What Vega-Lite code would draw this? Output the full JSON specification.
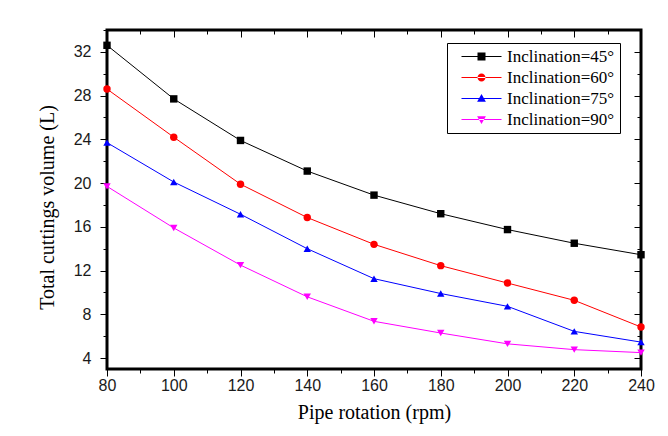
{
  "$schema": "https://vega.github.io/schema/vega-lite/v6.json",
  "width": 534,
  "height": 339,
  "autosize": "none",
  "padding": {"left": 107, "top": 30, "right": 27, "bottom": 67},
  "background": "white",
  "config": {
    "view": {"stroke": null},
    "axis": {
      "domainColor": "black", "domainWidth": 1, "tickColor": "black", "tickWidth": 1,
      "grid": false, "labelFont": "Liberation Sans", "labelFontSize": 16, "labelColor": "#1a1a1a",
      "titleFont": "Liberation Serif", "titleFontSize": 20, "titleFontWeight": "normal", "titleColor": "black"
    },
    "legend": {
      "strokeColor": "black", "strokeWidth": 1, "fillColor": "white", "padding": 5,
      "labelFont": "serif", "labelFontSize": 17, "labelColor": "black",
      "symbolSize": 256, "symbolOpacity": 1, "symbolOffset": 21, "labelOffset": 17, "rowPadding": 3, "symbolStrokeWidth": 0
    }
  },
  "datasets": {
    "series": [
      {"rpm": 80, "series": "Inclination=45°", "v": 32.6},
      {"rpm": 100, "series": "Inclination=45°", "v": 27.7},
      {"rpm": 120, "series": "Inclination=45°", "v": 23.9},
      {"rpm": 140, "series": "Inclination=45°", "v": 21.1},
      {"rpm": 160, "series": "Inclination=45°", "v": 18.9},
      {"rpm": 180, "series": "Inclination=45°", "v": 17.2},
      {"rpm": 200, "series": "Inclination=45°", "v": 15.75},
      {"rpm": 220, "series": "Inclination=45°", "v": 14.5},
      {"rpm": 240, "series": "Inclination=45°", "v": 13.45},
      {"rpm": 80, "series": "Inclination=60°", "v": 28.6},
      {"rpm": 100, "series": "Inclination=60°", "v": 24.2},
      {"rpm": 120, "series": "Inclination=60°", "v": 19.9},
      {"rpm": 140, "series": "Inclination=60°", "v": 16.85},
      {"rpm": 160, "series": "Inclination=60°", "v": 14.4},
      {"rpm": 180, "series": "Inclination=60°", "v": 12.45},
      {"rpm": 200, "series": "Inclination=60°", "v": 10.86},
      {"rpm": 220, "series": "Inclination=60°", "v": 9.28},
      {"rpm": 240, "series": "Inclination=60°", "v": 6.84},
      {"rpm": 80, "series": "Inclination=75°", "v": 23.7},
      {"rpm": 100, "series": "Inclination=75°", "v": 20.1},
      {"rpm": 120, "series": "Inclination=75°", "v": 17.15},
      {"rpm": 140, "series": "Inclination=75°", "v": 14.0},
      {"rpm": 160, "series": "Inclination=75°", "v": 11.26},
      {"rpm": 180, "series": "Inclination=75°", "v": 9.9},
      {"rpm": 200, "series": "Inclination=75°", "v": 8.73},
      {"rpm": 220, "series": "Inclination=75°", "v": 6.44},
      {"rpm": 240, "series": "Inclination=75°", "v": 5.46},
      {"rpm": 80, "series": "Inclination=90°", "v": 19.7},
      {"rpm": 100, "series": "Inclination=90°", "v": 15.9},
      {"rpm": 120, "series": "Inclination=90°", "v": 12.5},
      {"rpm": 140, "series": "Inclination=90°", "v": 9.6},
      {"rpm": 160, "series": "Inclination=90°", "v": 7.36},
      {"rpm": 180, "series": "Inclination=90°", "v": 6.29},
      {"rpm": 200, "series": "Inclination=90°", "v": 5.3},
      {"rpm": 220, "series": "Inclination=90°", "v": 4.77},
      {"rpm": 240, "series": "Inclination=90°", "v": 4.5}
    ]
  },
  "data": {"name": "series"},
  "resolve": {
    "scale": {"x": "independent", "y": "independent", "color": "independent", "shape": "independent"},
    "axis": {"x": "independent", "y": "independent"}
  },
  "layer": [
    {
      "data": {"values": [{}]},
      "mark": {"type": "rect", "stroke": "black", "strokeWidth": 3, "fill": "white", "fillOpacity": 0},
      "encoding": {
        "x": {"datum": 80, "type": "quantitative", "scale": {"domain": [80, 240], "nice": false, "zero": false},
          "axis": {"orient": "top", "title": null, "labels": false, "values": [80, 90, 100, 110, 120, 130, 140, 150, 160, 170, 180, 190, 200, 210, 220, 230, 240],
            "tickSize": {"condition": {"test": "datum.value % 20 === 0", "value": -7}, "value": -4}}},
        "x2": {"datum": 240},
        "y": {"datum": 3, "type": "quantitative", "scale": {"domain": [3, 34], "nice": false, "zero": false},
          "axis": {"orient": "right", "title": null, "labels": false, "values": [4, 6, 8, 10, 12, 14, 16, 18, 20, 22, 24, 26, 28, 30, 32, 34],
            "tickSize": {"condition": {"test": "datum.value % 4 === 0", "value": -7}, "value": -4}}},
        "y2": {"datum": 34}
      }
    },
    {
      "mark": {"type": "line", "strokeWidth": 1},
      "encoding": {
        "x": {"field": "rpm", "type": "quantitative", "scale": {"domain": [80, 240], "nice": false, "zero": false},
          "axis": {"orient": "bottom", "title": "Pipe rotation (rpm)", "values": [80, 90, 100, 110, 120, 130, 140, 150, 160, 170, 180, 190, 200, 210, 220, 230, 240],
            "labelExpr": "datum.value % 20 === 0 ? datum.label : ''",
            "tickSize": {"condition": {"test": "datum.value % 20 === 0", "value": 7}, "value": 4},
            "labelPadding": 1, "titlePadding": 9, "labelFlush": false, "labelOverlap": false}},
        "y": {"field": "v", "type": "quantitative", "scale": {"domain": [3, 34], "nice": false, "zero": false},
          "axis": {"orient": "left", "title": "Total cuttings volume (L)", "values": [4, 6, 8, 10, 12, 14, 16, 18, 20, 22, 24, 26, 28, 30, 32, 34],
            "labelExpr": "datum.value % 4 === 0 ? datum.label : ''",
            "tickSize": {"condition": {"test": "datum.value % 4 === 0", "value": 7}, "value": 4},
            "labelPadding": 9, "titlePadding": 16, "titleY": 177, "labelFlush": false, "labelOverlap": false}},
        "color": {"field": "series", "type": "nominal",
          "scale": {"domain": ["Inclination=45°", "Inclination=60°", "Inclination=75°", "Inclination=90°"], "range": ["black", "#ff0000", "#0000ff", "#ff00ff"]},
          "legend": null},
        "detail": {"field": "series"}
      }
    },
    {
      "mark": {"type": "point", "filled": true, "size": 55, "opacity": 1},
      "encoding": {
        "x": {"field": "rpm", "type": "quantitative", "scale": {"domain": [80, 240], "nice": false, "zero": false}, "axis": null},
        "y": {"field": "v", "type": "quantitative", "scale": {"domain": [3, 34], "nice": false, "zero": false}, "axis": null},
        "color": {"field": "series", "type": "nominal",
          "scale": {"domain": ["Inclination=45°", "Inclination=60°", "Inclination=75°", "Inclination=90°"], "range": ["black", "#ff0000", "#0000ff", "#ff00ff"]},
          "legend": null},
        "shape": {"field": "series", "type": "nominal",
          "scale": {"domain": ["Inclination=45°", "Inclination=60°", "Inclination=75°", "Inclination=90°"], "range": ["square", "circle", "triangle-up", "triangle-down"]},
          "legend": null}
      }
    },
    {
      "mark": {"type": "point", "filled": true, "opacity": 0},
      "encoding": {
        "x": {"field": "rpm", "type": "quantitative", "scale": {"domain": [80, 240], "nice": false, "zero": false}, "axis": null},
        "y": {"field": "v", "type": "quantitative", "scale": {"domain": [3, 34], "nice": false, "zero": false}, "axis": null},
        "color": {"field": "series", "type": "nominal",
          "scale": {"domain": ["Inclination=45°", "Inclination=60°", "Inclination=75°", "Inclination=90°"], "range": ["black", "#ff0000", "#0000ff", "#ff00ff"]},
          "legend": {"title": null, "orient": "none", "legendX": 340, "legendY": 13, "labelFont": "serif", "labelFontSize": 17}},
        "shape": {"field": "series", "type": "nominal",
          "scale": {"domain": ["Inclination=45°", "Inclination=60°", "Inclination=75°", "Inclination=90°"],
            "range": [
              "M-2.5,-0.0625H2.5V0.0625H-2.5Z M-0.5,-0.5H0.5V0.5H-0.5Z",
              "M-2.5,-0.0625H2.5V0.0625H-2.5Z M-0.5,0A0.5,0.5 0 1,0 0.5,0A0.5,0.5 0 1,0 -0.5,0Z",
              "M-2.5,-0.0625H2.5V0.0625H-2.5Z M0,-0.55L0.55,0.42H-0.55Z",
              "M-2.5,-0.0625H2.5V0.0625H-2.5Z M0,0.55L0.55,-0.42H-0.55Z"
            ]},
          "legend": {"title": null, "orient": "none", "legendX": 340, "legendY": 13, "labelFont": "serif", "labelFontSize": 17}}
      }
    }
  ]
}
